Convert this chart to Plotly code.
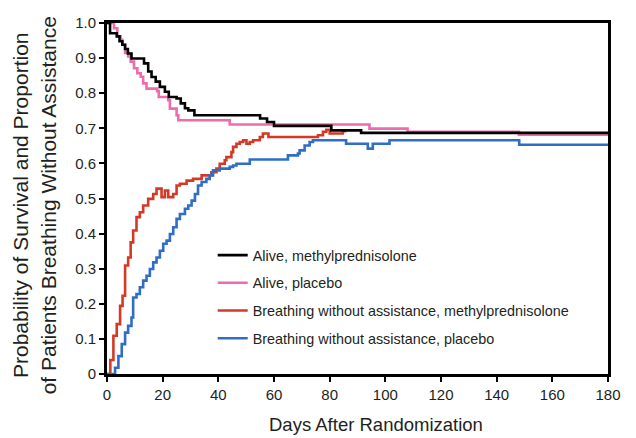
import plotly.graph_objects as go

# Alive, methylprednisolone
alive_mp_days = [0, 1.1, 3.5, 4.5, 5.5, 6.5, 7.5, 8.8, 13.3, 14.8, 16.0, 17.5, 19.0, 20.8, 22.2, 25.0,
                 26.5, 28.0, 29.2, 31.4, 55.0, 57.5, 60.0, 80.6, 91.3, 180]
alive_mp_vals = [1.0, 0.971, 0.962, 0.948, 0.938, 0.926, 0.913, 0.899, 0.885, 0.862, 0.846, 0.833, 0.818,
                 0.804, 0.789, 0.785, 0.771, 0.757, 0.751, 0.737, 0.728, 0.718, 0.707, 0.694, 0.687, 0.687]

# Alive, placebo
alive_pl_days = [0, 2.5, 3.7, 4.9, 5.5, 6.5, 7.6, 8.5, 9.7, 10.9, 12.1, 13.0, 14.2, 18.0, 18.6, 22.0,
                 22.6, 25.0, 25.6, 44.1, 94.3, 108.0, 148.0, 180]
alive_pl_vals = [1.0, 0.985, 0.962, 0.952, 0.938, 0.915, 0.905, 0.89, 0.871, 0.857, 0.847, 0.828, 0.813,
                 0.806, 0.789, 0.78, 0.756, 0.737, 0.723, 0.711, 0.699, 0.69, 0.682, 0.682]

# Breathing without assistance, methylprednisolone
breath_mp_days = [0, 1.2, 2.3, 3.5, 4.7, 5.6, 6.5, 7.6, 8.5, 9.4, 10.6, 11.8, 13.0, 14.8, 16.6, 17.8,
                  19.6, 20.8, 22.0, 23.8, 25.0, 26.2, 28.6, 30.9, 34.0, 37.5, 39.3, 40.5, 42.3, 42.9,
                  44.7, 45.3, 46.5, 47.7, 48.9, 50.1, 51.3, 52.5, 54.9, 56.0, 58.0, 75.8, 77.6, 78.8,
                  80.0, 84.7, 86.0]
breath_mp_vals = [0.0, 0.04, 0.109, 0.142, 0.194, 0.223, 0.309, 0.332, 0.375, 0.409, 0.447, 0.461, 0.48,
                  0.499, 0.513, 0.528, 0.504, 0.523, 0.504, 0.513, 0.537, 0.542, 0.551, 0.556, 0.566,
                  0.575, 0.585, 0.599, 0.609, 0.618, 0.632, 0.647, 0.656, 0.661, 0.666, 0.656, 0.661,
                  0.666, 0.675, 0.685, 0.675, 0.68, 0.69, 0.696, 0.685, 0.692, 0.692]

# Breathing without assistance, placebo
breath_pl_days = [0, 2.9, 4.1, 5.3, 6.5, 7.6, 8.8, 9.4, 10.6, 11.8, 13.0, 14.2, 15.4, 16.6, 17.8, 19.0,
                  20.2, 21.4, 22.6, 23.8, 25.0, 26.2, 28.0, 29.2, 30.4, 31.6, 32.7, 34.0, 35.7, 36.9,
                  38.1, 40.5, 44.1, 45.3, 46.5, 51.3, 65.0, 68.6, 69.2, 71.0, 72.8, 74.0, 85.9, 93.7,
                  95.5, 101.5, 148.1, 180]
breath_pl_vals = [0.0, 0.018, 0.051, 0.085, 0.118, 0.137, 0.161, 0.218, 0.228, 0.247, 0.266, 0.28, 0.299,
                  0.318, 0.332, 0.351, 0.371, 0.38, 0.399, 0.418, 0.442, 0.456, 0.471, 0.48, 0.494,
                  0.513, 0.537, 0.547, 0.556, 0.566, 0.58, 0.585, 0.59, 0.594, 0.599, 0.611, 0.623,
                  0.628, 0.637, 0.651, 0.661, 0.666, 0.656, 0.642, 0.656, 0.666, 0.653, 0.653]

x_ticks = [0, 20, 40, 60, 80, 100, 120, 140, 160, 180]
y_ticks = [0, 0.1, 0.2, 0.3, 0.4, 0.5, 0.6, 0.7, 0.8, 0.9, 1.0]
y_tick_labels = ["0", "0.1", "0.2", "0.3", "0.4", "0.5", "0.6", "0.7", "0.8", "0.9", "1.0"]

series = [
    ("Alive, methylprednisolone", alive_mp_days, alive_mp_vals, "#000000"),
    ("Alive, placebo", alive_pl_days, alive_pl_vals, "#F06BAE"),
    ("Breathing without assistance, methylprednisolone", breath_mp_days, breath_mp_vals, "#D33A26"),
    ("Breathing without assistance, placebo", breath_pl_days, breath_pl_vals, "#2F6DC6"),
]
draw_order = [1, 2, 3, 0]  # black drawn on top

FONT = "Arial, 'Liberation Sans', Helvetica, sans-serif"
TXT = "#231F20"

fig = go.Figure()
for i in draw_order:
    name, xs, ys, col = series[i]
    fig.add_trace(go.Scatter(
        x=xs, y=ys, mode="lines", name=name, legendgroup=f"g{i}", legendrank=i + 1,
        line=dict(color=col, width=2.6, shape="hv"),
    ))

# page body has an 8px default margin, so the figure is 8px smaller and offset
fig.update_layout(
    width=628, height=430,
    margin=dict(l=99, r=28, t=15, b=64, autoexpand=False),
    paper_bgcolor="white", plot_bgcolor="white",
    font=dict(family=FONT, color=TXT, size=15),
    showlegend=True,
    legend=dict(
        x=0.211, y=0.384, xanchor="left", yanchor="top",
        traceorder="grouped", tracegroupgap=6,
        font=dict(size=14.4, color=TXT, family=FONT),
        bgcolor="rgba(0,0,0,0)", itemwidth=30,
    ),
    xaxis=dict(
        range=[0, 180], tickvals=x_ticks, ticks="outside", ticklen=5, tickwidth=1.5,
        tickcolor="black", showline=True, linecolor="black", linewidth=3, mirror=True,
        showgrid=False, zeroline=False, tickfont=dict(size=15), automargin=False,
    ),
    yaxis=dict(
        range=[0, 1], tickvals=y_ticks, ticktext=y_tick_labels, ticks="outside", ticklen=5,
        tickwidth=1.5, tickcolor="black", showline=True, linecolor="black", linewidth=3,
        mirror=True, showgrid=False, zeroline=False, tickfont=dict(size=15), automargin=False,
    ),
    annotations=[
        dict(text="Days After Randomization", xref="paper", yref="paper",
             x=0.537, y=-0.145, xanchor="center", yanchor="middle", showarrow=False,
             font=dict(size=18.5, color=TXT, family=FONT)),
        dict(text="Probability of Survival and Proportion<br>of Patients Breathing Without Assistance",
             xref="paper", yref="paper", x=-0.146, y=0.48, xanchor="center", yanchor="middle",
             textangle=-90, showarrow=False, font=dict(size=21, color=TXT, family=FONT)),
    ],
)

fig.write_html("out.html")
